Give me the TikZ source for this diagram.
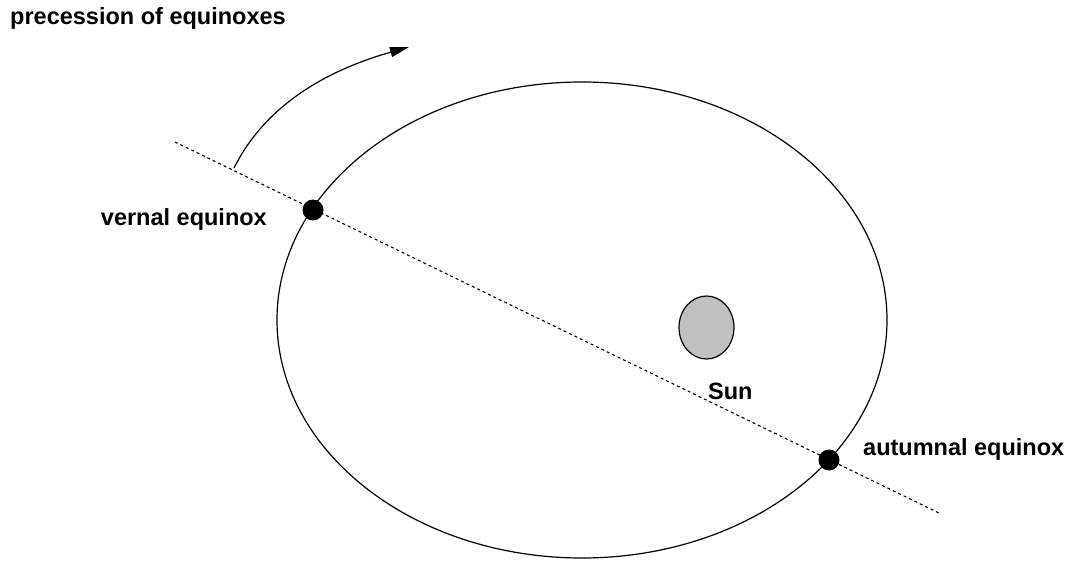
\documentclass[tikz,border=0pt]{standalone}
\usepackage{fontspec}
\setmainfont{Liberation Sans}
\usetikzlibrary{shapes.geometric,arrows.meta}
\begin{document}
\begin{tikzpicture}[x=1pt,y=-1pt,
  lbl/.style={font=\fontsize{23.5}{28}\selectfont\bfseries, inner sep=0pt},
  eqdot/.style={circle, fill=black, minimum size=21pt, inner sep=0pt},
  axisline/.style={dash pattern=on 3pt off 3pt, line width=1.1pt}]
\useasboundingbox (0,0) rectangle (1070,569);
\node[draw, ellipse, line width=1.2pt, minimum width=610pt, minimum height=476pt, inner sep=0pt] (orbit) at (582,320) {};
\node[draw, ellipse, line width=1.2pt, fill={rgb,255:red,192;green,192;blue,192}, minimum width=55pt, minimum height=63pt, inner sep=0pt] (sun) at (706.5,327.5) {};
\coordinate (a0) at (175,142);
\coordinate (a1) at (939,513);
\draw[axisline] (a0) -- (a1);
\node[eqdot] (vern) at (313,210) {};
\node[eqdot] (aut) at (829,460) {};
\coordinate (p0) at (234,168);
\coordinate (p1) at (409,47);
\draw[line width=1.2pt, -{Triangle[length=19pt,width=10pt]}] (p0) .. controls (268,100) and (335,68) .. (p1);
\node[lbl, anchor=base west] (ptxt) at (10,25) {precession of equinoxes};
\node[lbl, anchor=base east] (vtxt) at (267,226) {vernal equinox};
\node[lbl, anchor=base west] (atxt) at (863,455) {autumnal equinox};
\node[lbl, anchor=base west] (stxt) at (708,399) {Sun};
\end{tikzpicture}
\end{document}
